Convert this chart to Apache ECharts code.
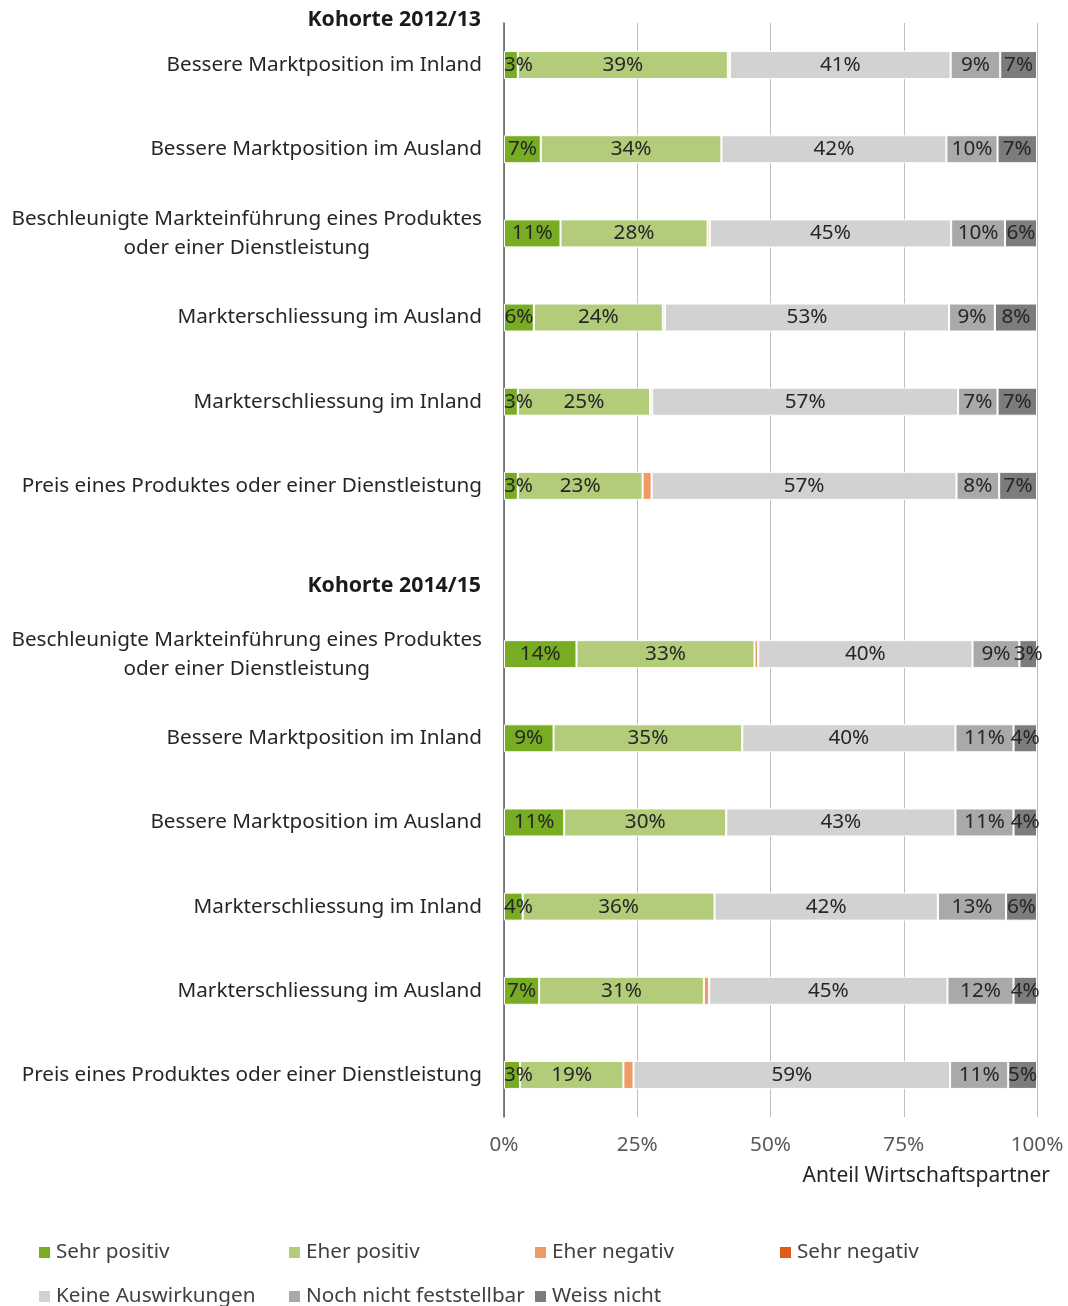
<!DOCTYPE html>
<html>
<head>
<meta charset="utf-8">
<script src="https://cdn.jsdelivr.net/npm/echarts@6/dist/echarts.min.js"></script>
<style>
  html, body { margin: 0; padding: 0; background: #fff; }
  #main { width: 1068px; height: 1306px; }
</style>
</head>
<body>
<div id="main"></div>
<script>
// Kategorien (leerer Eintrag = Abstand zwischen den Kohorten)
var categories = [
  'Bessere Marktposition im Inland',
  'Bessere Marktposition im Ausland',
  'Beschleunigte Markteinführung eines Produktes\noder einer Dienstleistung',
  'Markterschliessung im Ausland',
  'Markterschliessung im Inland',
  'Preis eines Produktes oder einer Dienstleistung',
  '',
  'Beschleunigte Markteinführung eines Produktes\noder einer Dienstleistung',
  'Bessere Marktposition im Inland',
  'Bessere Marktposition im Ausland',
  'Markterschliessung im Inland',
  'Markterschliessung im Ausland',
  'Preis eines Produktes oder einer Dienstleistung'
];
var cohortTitles = ['Kohorte 2012/13', 'Kohorte 2014/15'];
var seriesNames = ['Sehr positiv', 'Eher positiv', 'Eher negativ', 'Sehr negativ',
                   'Keine Auswirkungen', 'Noch nicht feststellbar', 'Weiss nicht'];

// Anteile in %
var sehrPositiv       = [2.6, 6.9, 10.6, 5.6, 2.6, 2.6, null, 13.6, 9.3, 11.3, 3.5, 6.6, 3.0];
var eherPositiv       = [39.4, 33.9, 27.6, 24.2, 24.8, 23.4, null, 33.4, 35.4, 30.4, 36.0, 30.9, 19.4];
var eherNegativ       = [0.4, 0, 0.4, 0, 0, 1.7, null, 0.7, 0, 0, 0, 1.0, 1.9];
var sehrNegativ       = [0, 0, 0, 0.4, 0.4, 0, null, 0, 0, 0, 0, 0, 0];
var keineAuswirkungen = [41.4, 42.2, 45.3, 53.3, 57.4, 57.2, null, 40.2, 40.0, 43.0, 41.9, 44.7, 59.4];
var nochNicht         = [9.3, 9.6, 10.1, 8.6, 7.4, 8.0, null, 8.8, 10.9, 10.9, 12.8, 12.4, 10.9];
var weissNicht        = [6.9, 7.4, 6.0, 7.9, 7.4, 7.1, null, 3.3, 4.4, 4.4, 5.8, 4.4, 5.4];
var xTicks = [0, 25, 50, 75, 100];

var colors = ['#78ac22', '#b3cc7a', '#ee9b64', '#e05a1a', '#d2d2d2', '#a9a9a9', '#7c7c7c'];
var allData = [sehrPositiv, eherPositiv, eherNegativ, sehrNegativ, keineAuswirkungen, nochNicht, weissNicht];
var FONT = 'Noto Sans';
var FS = 20.7;

var series = [];
for (var i = 0; i < seriesNames.length; i++) {
  var showLabel = (i !== 2 && i !== 3);
  var rows = allData[i].map(function (v) {
    // kleine Werte am Achsenanfang: Beschriftung links buendig wie im Original
    if (i === 0 && v != null && v < 5) {
      return { value: v, label: { position: 'insideLeft', distance: 0 } };
    }
    return v;
  });
  series.push({
    name: seriesNames[i],
    type: 'bar',
    stack: 'total',
    barWidth: 28,
    data: rows,
    itemStyle: { color: colors[i], borderColor: '#fff', borderWidth: 1 },
    label: {
      show: showLabel,
      position: 'inside',
      color: '#262626',
      fontFamily: FONT,
      fontSize: FS,
      formatter: function (p) {
        if (p.value == null || p.value === 0) return '';
        return Math.round(p.value) + '%';
      }
    },
    emphasis: { disabled: true }
  });
}

// Legende: ein Legendenobjekt je Eintrag, damit die Spalten fest liegen
var legendPos = [
  [37, 1242], [287, 1242], [533, 1242], [778, 1242],
  [37, 1286], [287, 1286], [533, 1286]
];
var legends = seriesNames.map(function (n, i) {
  return {
    data: [n],
    left: legendPos[i][0],
    top: legendPos[i][1],
    itemWidth: 13,
    itemHeight: 13,
    icon: 'rect',
    padding: 0,
    textStyle: { fontFamily: FONT, fontSize: FS, color: '#404040', padding: [0, 0, 0, 0] }
  };
});

var myChart = echarts.init(document.getElementById('main'));
var option = {
  animation: false,
  color: colors,
  legend: legends,
  grid: { left: 504, right: 31, top: 23, bottom: 189, containLabel: false },
  xAxis: {
    type: 'value',
    min: xTicks[0],
    max: xTicks[xTicks.length - 1],
    interval: 25,
    axisLine: { show: false },
    axisTick: { show: false },
    splitLine: { show: true, lineStyle: { color: '#bfbfbf', width: 1 } },
    axisLabel: {
      margin: 18,
      fontFamily: FONT,
      fontSize: FS,
      color: '#595959',
      formatter: '{value}%'
    }
  },
  yAxis: {
    type: 'category',
    inverse: true,
    data: categories,
    axisLine: { show: true, lineStyle: { color: '#595959', width: 1.5 } },
    axisTick: { show: false },
    axisLabel: {
      margin: 22,
      fontFamily: FONT,
      fontSize: FS,
      color: '#262626',
      lineHeight: 29,
      align: 'right',
      // zweizeilige Beschriftungen zentriert untereinander
      formatter: function (v) {
        return v.split('\n').map(function (l) { return '{c|' + l + '}'; }).join('\n');
      },
      rich: {
        c: { align: 'center', fontFamily: FONT, fontSize: FS, color: '#262626', lineHeight: 29 }
      }
    }
  },
  graphic: [
    {
      type: 'text', right: 1068 - 481, top: 9,
      style: { text: cohortTitles[0], font: 'bold 21.3px "Noto Sans"', fill: '#1a1a1a' }
    },
    {
      type: 'text', right: 1068 - 481, top: 575,
      style: { text: cohortTitles[1], font: 'bold 21.3px "Noto Sans"', fill: '#1a1a1a' }
    },
    {
      type: 'text', right: 1068 - 1050, top: 1166,
      style: { text: 'Anteil Wirtschaftspartner', font: '21px "Noto Sans"', fill: '#262626' }
    }
  ],
  series: series
};
myChart.setOption(option);
</script>
</body>
</html>
